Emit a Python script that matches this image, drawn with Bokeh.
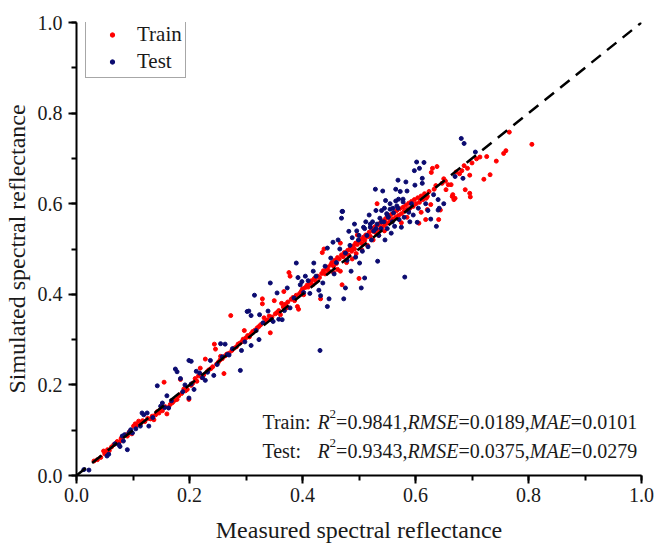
from bokeh.plotting import figure
from bokeh.models import Legend, LegendItem, Label, SingleIntervalTicker, NumeralTickFormatter
from bokeh.embed import file_html
from bokeh.resources import INLINE

# ---------------- data ----------------
train_x = [
    0.031, 0.037, 0.043, 0.048, 0.050, 0.052, 0.055, 0.058, 0.062, 0.066,
    0.070, 0.072, 0.076, 0.079, 0.082, 0.088, 0.090, 0.094, 0.098, 0.101,
    0.104, 0.107, 0.110, 0.114, 0.117, 0.121, 0.126, 0.131, 0.134, 0.137,
    0.140, 0.143, 0.146, 0.149, 0.152, 0.155, 0.157, 0.160, 0.163, 0.166,
    0.170, 0.174, 0.178, 0.181, 0.184, 0.186, 0.190, 0.193, 0.196, 0.199,
    0.203, 0.206, 0.210, 0.213, 0.216, 0.219, 0.222, 0.225, 0.228, 0.231,
    0.234, 0.238, 0.241, 0.244, 0.246, 0.248, 0.251, 0.254, 0.255, 0.258,
    0.261, 0.263, 0.266, 0.270, 0.273, 0.275, 0.279, 0.283, 0.286, 0.289,
    0.293, 0.295, 0.297, 0.300, 0.303, 0.306, 0.309, 0.312, 0.316, 0.320,
    0.323, 0.326, 0.329, 0.329, 0.332, 0.335, 0.338, 0.341, 0.343, 0.346,
    0.350, 0.352, 0.355, 0.358, 0.361, 0.363, 0.366, 0.367, 0.370, 0.372,
    0.374, 0.376, 0.378, 0.380, 0.383, 0.386, 0.389, 0.391, 0.393, 0.395,
    0.398, 0.400, 0.402, 0.405, 0.408, 0.410, 0.413, 0.416, 0.418, 0.421,
    0.424, 0.427, 0.430, 0.432, 0.434, 0.435, 0.437, 0.438, 0.440, 0.443,
    0.445, 0.447, 0.450, 0.452, 0.455, 0.457, 0.460, 0.462, 0.465, 0.467,
    0.467, 0.469, 0.470, 0.472, 0.474, 0.477, 0.480, 0.482, 0.485, 0.487,
    0.490, 0.492, 0.494, 0.497, 0.497, 0.500, 0.500, 0.503, 0.505, 0.508,
    0.510, 0.512, 0.515, 0.518, 0.520, 0.522, 0.525, 0.528, 0.530, 0.532,
    0.534, 0.536, 0.538, 0.540, 0.542, 0.545, 0.547, 0.550, 0.552, 0.555,
    0.557, 0.560, 0.562, 0.565, 0.567, 0.570, 0.572, 0.575, 0.578, 0.580,
    0.583, 0.585, 0.588, 0.590, 0.593, 0.596, 0.598, 0.601, 0.604, 0.607,
    0.610, 0.613, 0.616, 0.619, 0.621, 0.624, 0.627, 0.628, 0.630, 0.633,
    0.636, 0.638, 0.641, 0.644, 0.647, 0.650, 0.653, 0.654, 0.658, 0.663,
    0.665, 0.666, 0.668, 0.670, 0.672, 0.678, 0.682, 0.686, 0.688, 0.692,
    0.696, 0.696, 0.697, 0.700, 0.708, 0.714, 0.721, 0.726, 0.732, 0.743,
    0.756, 0.760, 0.766, 0.806, 0.606, 0.610, 0.618, 0.621, 0.575, 0.585,
    0.455, 0.462, 0.478, 0.488, 0.495, 0.505, 0.515, 0.525, 0.535, 0.545,
]
train_y = [
    0.032, 0.035, 0.040, 0.054, 0.048, 0.050, 0.057, 0.055, 0.063, 0.068,
    0.071, 0.075, 0.074, 0.082, 0.086, 0.090, 0.087, 0.097, 0.092, 0.109,
    0.114, 0.111, 0.120, 0.116, 0.121, 0.119, 0.126, 0.125, 0.131, 0.123,
    0.134, 0.141, 0.138, 0.146, 0.143, 0.206, 0.152, 0.136, 0.150, 0.157,
    0.161, 0.166, 0.168, 0.176, 0.212, 0.181, 0.191, 0.187, 0.190, 0.168,
    0.199, 0.204, 0.214, 0.208, 0.220, 0.237, 0.216, 0.222, 0.257, 0.229,
    0.233, 0.236, 0.240, 0.290, 0.279, 0.246, 0.250, 0.255, 0.263, 0.258,
    0.225, 0.264, 0.268, 0.270, 0.353, 0.276, 0.281, 0.284, 0.290, 0.292,
    0.296, 0.301, 0.320, 0.304, 0.309, 0.306, 0.313, 0.318, 0.321, 0.326,
    0.329, 0.333, 0.390, 0.379, 0.348, 0.340, 0.343, 0.352, 0.315, 0.350,
    0.386, 0.357, 0.360, 0.364, 0.355, 0.380, 0.372, 0.406, 0.378, 0.370,
    0.383, 0.448, 0.440, 0.389, 0.393, 0.386, 0.398, 0.373, 0.367, 0.402,
    0.407, 0.412, 0.399, 0.415, 0.420, 0.416, 0.424, 0.430, 0.421, 0.435,
    0.429, 0.440, 0.437, 0.390, 0.446, 0.492, 0.452, 0.500, 0.445, 0.455,
    0.460, 0.451, 0.465, 0.470, 0.462, 0.475, 0.468, 0.481, 0.478, 0.451,
    0.513, 0.487, 0.421, 0.483, 0.492, 0.489, 0.497, 0.486, 0.502, 0.495,
    0.507, 0.500, 0.513, 0.531, 0.510, 0.435, 0.516, 0.521, 0.512, 0.526,
    0.519, 0.531, 0.527, 0.537, 0.528, 0.545, 0.539, 0.549, 0.536, 0.600,
    0.553, 0.542, 0.558, 0.548, 0.562, 0.552, 0.567, 0.557, 0.571, 0.562,
    0.576, 0.566, 0.580, 0.570, 0.585, 0.574, 0.589, 0.578, 0.592, 0.583,
    0.597, 0.587, 0.601, 0.590, 0.605, 0.594, 0.609, 0.600, 0.613, 0.603,
    0.617, 0.609, 0.622, 0.612, 0.616, 0.627, 0.598, 0.669, 0.678, 0.632,
    0.640, 0.682, 0.565, 0.586, 0.645, 0.655, 0.650, 0.631, 0.642, 0.642,
    0.616, 0.620, 0.609, 0.612, 0.670, 0.666, 0.673, 0.684, 0.631, 0.678,
    0.663, 0.623, 0.615, 0.690, 0.699, 0.703, 0.654, 0.704, 0.664, 0.694,
    0.711, 0.717, 0.758, 0.731, 0.557, 0.581, 0.565, 0.587, 0.558, 0.570,
    0.448, 0.455, 0.470, 0.478, 0.490, 0.498, 0.508, 0.520, 0.530, 0.540,
]
test_x = [
    0.013, 0.022, 0.054, 0.057, 0.068, 0.075, 0.077, 0.081, 0.083, 0.085,
    0.090, 0.093, 0.096, 0.099, 0.105, 0.113, 0.116, 0.119, 0.125, 0.128,
    0.135, 0.143, 0.149, 0.152, 0.156, 0.160, 0.163, 0.168, 0.175, 0.178,
    0.184, 0.188, 0.192, 0.199, 0.199, 0.203, 0.203, 0.208, 0.212, 0.218,
    0.223, 0.228, 0.232, 0.237, 0.243, 0.249, 0.255, 0.258, 0.263, 0.267,
    0.270, 0.276, 0.290, 0.292, 0.298, 0.302, 0.305, 0.309, 0.309, 0.315,
    0.318, 0.323, 0.324, 0.330, 0.339, 0.343, 0.345, 0.348, 0.355, 0.358,
    0.364, 0.368, 0.373, 0.378, 0.385, 0.389, 0.392, 0.396, 0.399, 0.402,
    0.405, 0.410, 0.413, 0.419, 0.420, 0.424, 0.429, 0.431, 0.432, 0.436,
    0.440, 0.444, 0.444, 0.447, 0.450, 0.454, 0.456, 0.460, 0.463, 0.466,
    0.469, 0.470, 0.473, 0.476, 0.476, 0.479, 0.482, 0.484, 0.486, 0.488,
    0.492, 0.494, 0.496, 0.499, 0.501, 0.504, 0.506, 0.508, 0.510, 0.512,
    0.514, 0.516, 0.518, 0.520, 0.522, 0.524, 0.526, 0.529, 0.530, 0.532,
    0.533, 0.535, 0.537, 0.539, 0.540, 0.542, 0.544, 0.546, 0.547, 0.549,
    0.550, 0.552, 0.555, 0.557, 0.559, 0.561, 0.563, 0.565, 0.565, 0.567,
    0.569, 0.569, 0.571, 0.573, 0.575, 0.578, 0.578, 0.580, 0.583, 0.585,
    0.587, 0.588, 0.590, 0.593, 0.596, 0.598, 0.599, 0.602, 0.603, 0.605,
    0.607, 0.612, 0.612, 0.615, 0.618, 0.622, 0.627, 0.632, 0.637, 0.640,
    0.640, 0.642, 0.650, 0.670, 0.681, 0.684, 0.686, 0.706, 0.581, 0.471,
    0.500, 0.510, 0.520, 0.530, 0.540, 0.550, 0.560, 0.570, 0.545, 0.555,
]
test_y = [
    0.013, 0.012, 0.043, 0.047, 0.070, 0.068, 0.064, 0.087, 0.076, 0.090,
    0.057, 0.095, 0.101, 0.094, 0.103, 0.109, 0.138, 0.134, 0.138, 0.109,
    0.128, 0.198, 0.153, 0.160, 0.150, 0.176, 0.149, 0.165, 0.235, 0.229,
    0.214, 0.185, 0.200, 0.171, 0.254, 0.252, 0.202, 0.190, 0.230, 0.226,
    0.216, 0.210, 0.228, 0.254, 0.221, 0.245, 0.291, 0.262, 0.290, 0.267,
    0.266, 0.280, 0.232, 0.276, 0.295, 0.362, 0.363, 0.353, 0.287, 0.398,
    0.320, 0.300, 0.355, 0.337, 0.363, 0.425, 0.344, 0.340, 0.403, 0.345,
    0.344, 0.364, 0.414, 0.370, 0.392, 0.469, 0.437, 0.421, 0.428, 0.404,
    0.440, 0.430, 0.402, 0.451, 0.469, 0.440, 0.409, 0.276, 0.397, 0.425,
    0.462, 0.502, 0.373, 0.390, 0.480, 0.515, 0.445, 0.470, 0.520, 0.500,
    0.568, 0.583, 0.390, 0.491, 0.414, 0.475, 0.539, 0.508, 0.451, 0.525,
    0.555, 0.482, 0.540, 0.520, 0.469, 0.414, 0.495, 0.548, 0.436, 0.560,
    0.530, 0.505, 0.575, 0.548, 0.520, 0.560, 0.540, 0.632, 0.585, 0.555,
    0.473, 0.530, 0.568, 0.545, 0.585, 0.628, 0.560, 0.520, 0.607, 0.578,
    0.545, 0.570, 0.588, 0.535, 0.560, 0.580, 0.550, 0.632, 0.606, 0.595,
    0.652, 0.590, 0.565, 0.627, 0.548, 0.610, 0.604, 0.570, 0.648, 0.628,
    0.585, 0.581, 0.560, 0.600, 0.575, 0.673, 0.641, 0.692, 0.559, 0.590,
    0.678, 0.656, 0.645, 0.691, 0.600, 0.585, 0.566, 0.620, 0.550, 0.609,
    0.586, 0.590, 0.600, 0.660, 0.744, 0.656, 0.733, 0.714, 0.438, 0.583,
    0.530, 0.545, 0.555, 0.545, 0.560, 0.575, 0.590, 0.610, 0.590, 0.600,
]
ref_line_x = [0.0, 1.0]
ref_line_y = [0.0, 1.0]

train_stats = ["0.9841", "0.0189", "0.0101"]
test_stats = ["0.9343", "0.0375", "0.0279"]

# ---------------- figure ----------------
SERIF = "Liberation Serif"
TXT = "#1a1a1a"

p = figure(width=660, height=545, x_range=(0, 1), y_range=(0, 1),
           output_backend="svg", toolbar_location=None, tools="",
           min_border_left=76, min_border_right=19,
           min_border_top=22, min_border_bottom=69,
           background_fill_color="white", border_fill_color="white")
p.outline_line_color = None
p.grid.visible = False

for ax in (p.xaxis[0], p.yaxis[0]):
    ax.ticker = SingleIntervalTicker(interval=0.2, num_minor_ticks=2)
    ax.formatter = NumeralTickFormatter(format="0.0")
    ax.axis_line_width = 2
    ax.axis_line_color = "black"
    ax.major_tick_line_width = 2
    ax.major_tick_out = 8
    ax.major_tick_in = 0
    ax.minor_tick_line_width = 2
    ax.minor_tick_out = 5
    ax.minor_tick_in = 0
    ax.major_label_text_font = SERIF
    ax.major_label_text_font_size = "20px"
    ax.major_label_text_color = TXT
    ax.axis_label_text_font = SERIF
    ax.axis_label_text_font_size = "24px"
    ax.axis_label_text_font_style = "normal"
    ax.axis_label_text_color = TXT

p.xaxis.axis_label = "Measured spectral reflectance"
p.yaxis.axis_label = "Simulated spectral reflectance"
p.xaxis.major_label_standoff = 4
p.xaxis.axis_label_standoff = 12
p.yaxis.major_label_standoff = 6
p.yaxis.axis_label_standoff = 5

r_train = p.scatter(train_x, train_y, size=4, color="#ff0000")
r_test = p.scatter(test_x, test_y, size=4, color="#0b0b70")
p.line(ref_line_x, ref_line_y, line_color="black", line_width=2.5, line_dash="12 8")

legend = Legend(items=[LegendItem(label="Train", renderers=[r_train]),
                       LegendItem(label="Test", renderers=[r_test])],
                location=(9, 397))
legend.label_text_font = SERIF
legend.label_text_font_size = "21px"
legend.label_text_color = TXT
legend.label_height = 24
legend.glyph_height = 11
legend.glyph_width = 46
legend.label_standoff = 2
legend.spacing = 2
legend.padding = 3
legend.margin = 0
legend.border_line_color = "#505050"
legend.border_line_width = 1
legend.background_fill_alpha = 1.0
p.add_layout(legend, "center")

# ---------------- statistics text (mixed italic / superscript) ----------------
FS = 20
W_REG = {"0": 500, "1": 500, "2": 500, "3": 500, "4": 500, "5": 500, "6": 500, "7": 500,
         "8": 500, "9": 500, ".": 250, ",": 250, "=": 564}
W_IT = {"R": 611, "M": 833, "S": 500, "E": 611, "A": 611}


def width(s, table):
    return sum(table[c] for c in s) * FS / 1000.0


def stat_line(prefix, stats, y):
    parts = []
    x0 = 55.0
    parts.append((prefix, "normal", 0, FS, 0.0))
    parts.append(("R", "italic", 0, FS, x0))
    x0 += width("R", W_IT)
    parts.append(("2", "normal", 8, 13, x0))
    x0 += 6.5
    s1 = "=" + stats[0] + ","
    parts.append((s1, "normal", 0, FS, x0))
    x0 += width(s1, W_REG)
    parts.append(("RMSE", "italic", 0, FS, x0))
    x0 += width("RMSE", W_IT)
    s2 = "=" + stats[1] + ","
    parts.append((s2, "normal", 0, FS, x0))
    x0 += width(s2, W_REG)
    parts.append(("MAE", "italic", 0, FS, x0))
    x0 += width("MAE", W_IT)
    s3 = "=" + stats[2]
    parts.append((s3, "normal", 0, FS, x0))
    for text, style, yoff, fs, xoff in parts:
        p.add_layout(Label(x=0.329, y=y, x_offset=xoff, y_offset=yoff, text=text,
                           text_font=SERIF, text_font_size=f"{fs}px",
                           text_font_style=style, text_color=TXT,
                           text_baseline="alphabetic", text_align="left"))


stat_line("Train:", train_stats, 0.119)
stat_line("Test:", test_stats, 0.053)

open("out.html", "w").write(file_html(p, INLINE))
